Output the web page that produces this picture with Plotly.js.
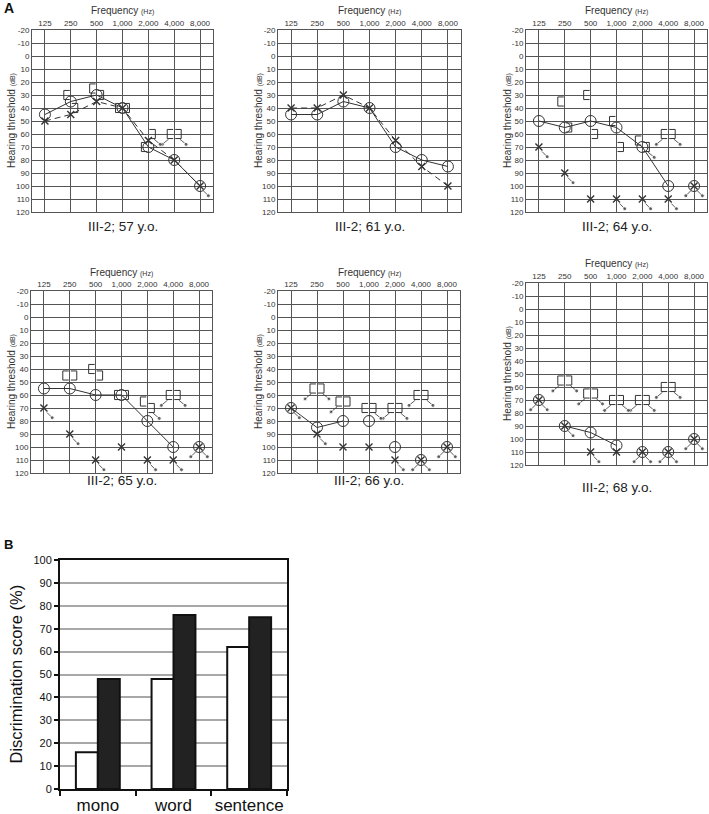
<!DOCTYPE html>
<html>
<head>
<meta charset="utf-8">
<script src="https://cdn.plot.ly/plotly-3.0.1.min.js"></script>
<style>
  html, body { margin: 0; padding: 0; background: #fff; }
  #chart { width: 709px; height: 814px; }
</style>
</head>
<body>
<div id="chart"></div>
<script>
(function () {
    'use strict';

    // ---- data -------------------------------------------------------------
    var FREQS = ['125', '250', '500', '1,000', '2,000', '4,000', '8,000'];
    var DB_TICKS = ['-20', '-10', '0', '10', '20', '30', '40', '50', '60', '70', '80', '90', '100', '110', '120'];
    var AGES = [57, 61, 64, 65, 66, 68];

    // right ear, air conduction (O)
    var RIGHT_AIR = [
        [45, 35, 30, 40, 70, 80, 100],
        [45, 45, 35, 40, 70, 80, 85],
        [50, 55, 50, 55, 70, 100, 100],
        [55, 55, 60, 60, 80, 100, 100],
        [70, 85, 80, 80, 100, 110, 100],
        [70, 90, 95, 105, 110, 110, 100]
    ];
    // solid line joining the O marks (null = break)
    var RIGHT_LINE = [
        [45, 35, 30, 40, 70, 80, 100],
        [45, 45, 35, 40, 70, 80, 85],
        [50, 55, 50, 55, 70, 100, null],
        [55, 55, 60, 60, 80, 100, null],
        [70, 85, 80, null, null, null, null],
        [null, 90, 95, 105, null, null, null]
    ];
    var RIGHT_AIR_NR = [
        [0, 0, 0, 0, 0, 0, 0],
        [0, 0, 0, 0, 0, 0, 0],
        [0, 0, 0, 0, 0, 0, 1],
        [0, 0, 0, 0, 0, 0, 1],
        [0, 0, 0, 0, 0, 1, 1],
        [1, 0, 0, 0, 1, 1, 1]
    ];

    // left ear, air conduction (X)
    var LEFT_AIR = [
        [50, 45, 35, 40, 65, 80, 100],
        [40, 40, 30, 40, 65, 85, 100],
        [70, 90, 110, 110, 110, 110, 100],
        [70, 90, 110, 100, 110, 110, 100],
        [70, 90, 100, 100, 110, 110, 100],
        [70, 90, 110, 110, 110, 110, 100]
    ];
    // dashed line joining the X marks
    var LEFT_LINE = [
        [50, 45, 35, 40, 65, 80, 100],
        [40, 40, 30, 40, 65, 85, 100],
        [null, null, null, null, null, null, null],
        [null, null, null, null, null, null, null],
        [null, null, null, null, null, null, null],
        [null, null, null, null, null, null, null]
    ];
    var LEFT_AIR_NR = [
        [0, 0, 0, 0, 0, 0, 1],
        [0, 0, 0, 0, 0, 0, 0],
        [1, 1, 0, 1, 1, 1, 1],
        [1, 1, 1, 0, 1, 1, 1],
        [1, 1, 0, 0, 1, 1, 1],
        [1, 1, 1, 0, 1, 1, 1]
    ];

    // masked bone conduction: right "[" and left "]"
    var RIGHT_BONE = [
        [null, 30, 25, 40, 70, 60, null],
        [null, null, null, null, null, null, null],
        [null, 35, 30, 50, 65, 60, null],
        [null, 45, 40, 60, 65, 60, null],
        [null, 55, 65, 70, 70, 60, null],
        [null, 55, 65, 70, 70, 60, null]
    ];
    var RIGHT_BONE_NR = [
        [0, 0, 0, 0, 0, 1, 0],
        [0, 0, 0, 0, 0, 0, 0],
        [0, 0, 0, 0, 0, 1, 0],
        [0, 0, 0, 0, 0, 1, 0],
        [0, 1, 1, 0, 1, 1, 0],
        [0, 1, 1, 1, 1, 1, 0]
    ];
    var LEFT_BONE = [
        [null, 40, 30, 40, 60, 60, null],
        [null, null, null, null, null, null, null],
        [null, 55, 60, 70, 70, 60, null],
        [null, 45, 45, 60, 70, 60, null],
        [null, 55, 65, 70, 70, 60, null],
        [null, 55, 65, 70, 70, 60, null]
    ];
    var LEFT_BONE_NR = [
        [0, 0, 0, 0, 1, 1, 0],
        [0, 0, 0, 0, 0, 0, 0],
        [0, 0, 0, 0, 1, 1, 0],
        [0, 0, 0, 0, 1, 1, 0],
        [0, 1, 0, 1, 1, 1, 0],
        [0, 1, 1, 1, 1, 1, 0]
    ];

    // panel B
    var TESTS = ['mono', 'word', 'sentence'];
    var SCORE_OPEN = [16, 48, 62];
    var SCORE_FILLED = [48, 76, 75];

    // ---- geometry (pixels in the 709x814 page) ----------------------------
    var W = 709, H = 814;
    var INK = '#333';
    var FONT = 'Liberation Sans, Arial, sans-serif';
    var PANELS = [
        { x0: 32, x1: 213, y0: 30, y1: 212, freqY: 10, capY: 226, titleX: 11 },
        { x0: 278, x1: 461, y0: 30, y1: 212, freqY: 10, capY: 226, titleX: 258 },
        { x0: 526, x1: 707, y0: 30, y1: 212, freqY: 10, capY: 226, titleX: 507 },
        { x0: 31, x1: 212, y0: 291, y1: 473, freqY: 272, capY: 480, titleX: 11 },
        { x0: 278, x1: 460, y0: 291, y1: 473, freqY: 272, capY: 480, titleX: 258 },
        { x0: 526, x1: 707, y0: 283, y1: 465, freqY: 263, capY: 488, titleX: 507 }
    ];
    var BAR = { x0: 60, x1: 287, y0: 560, y1: 789 };

    function px(x) { return x / W; }
    function py(y) { return 1 - y / H; }
    function idx() { return FREQS.map(function (_, i) { return i; }); }

    // short "no response" arrows hanging off a symbol
    function arrows(vals, flags, dir, a, b) {
        var xs = [], ys = [], sz = [];
        vals.forEach(function (v, i) {
            if (v == null || !flags[i]) return;
            xs.push(i + dir * a[0], i + dir * b[0], null);
            ys.push(v + a[1], v + b[1], null);
            sz.push(0, 4, 0);
        });
        return { x: xs, y: ys, size: sz };
    }

    // bracket outline "[" (dir -1) or "]" (dir +1) beside the frequency line
    function brackets(vals, dir) {
        var xs = [], ys = [];
        var inner = 0.04, outer = 0.27, half = 3.5;
        vals.forEach(function (v, i) {
            if (v == null) return;
            xs.push(i + dir * inner, i + dir * outer, i + dir * outer, i + dir * inner, null);
            ys.push(v - half, v - half, v + half, v + half, null);
        });
        return { x: xs, y: ys };
    }

    var AIR_A = [0.12, 3.5], AIR_B = [0.32, 7.5];
    var BONE_A = [0.22, 4], BONE_B = [0.46, 8];

    var traces = [], layout = {
        width: W, height: H, margin: { l: 0, r: 0, t: 0, b: 0 },
        paper_bgcolor: '#fff', plot_bgcolor: '#fff',
        showlegend: false, font: { family: FONT, color: INK },
        annotations: [], barmode: 'group', bargap: 0.42, bargroupgap: 0
    };

    PANELS.forEach(function (p, k) {
        var n = k + 1, xa = 'x' + n, ya = 'y' + n;
        var X = idx();

        function add(t) { t.xaxis = xa; t.yaxis = ya; t.hoverinfo = 'skip'; traces.push(t); }

        add({ type: 'scatter', mode: 'lines', x: X, y: RIGHT_LINE[k],
              line: { color: INK, width: 1 }, connectgaps: false });
        add({ type: 'scatter', mode: 'lines', x: X, y: LEFT_LINE[k],
              line: { color: INK, width: 1, dash: '6px,4px' }, connectgaps: false });

        [[RIGHT_BONE[k], -1], [LEFT_BONE[k], 1]].forEach(function (s) {
            var b = brackets(s[0], s[1]);
            add({ type: 'scatter', mode: 'lines', x: b.x, y: b.y,
                  line: { color: INK, width: 1 } });
        });

        [[RIGHT_AIR_NR, RIGHT_AIR, -1, AIR_A, AIR_B], [LEFT_AIR_NR, LEFT_AIR, 1, AIR_A, AIR_B],
         [RIGHT_BONE_NR, RIGHT_BONE, -1, BONE_A, BONE_B], [LEFT_BONE_NR, LEFT_BONE, 1, BONE_A, BONE_B]]
            .forEach(function (s) {
                var a = arrows(s[1][k], s[0][k], s[2], s[3], s[4]);
                add({ type: 'scatter', mode: 'lines+markers', x: a.x, y: a.y,
                      line: { color: INK, width: 0.8 },
                      marker: { symbol: 'circle', color: INK, size: a.size } });
            });

        add({ type: 'scatter', mode: 'markers', x: X, y: RIGHT_AIR[k],
              marker: { symbol: 'circle-open', size: 11, color: INK, line: { width: 1, color: INK } } });
        add({ type: 'scatter', mode: 'markers', x: X, y: LEFT_AIR[k],
              marker: { symbol: 'x-thin-open', size: 7, color: INK, line: { width: 1.4, color: INK } } });

        var yt = DB_TICKS.map(Number);

        layout['xaxis' + n] = {
            domain: [px(p.x0), px(p.x1)], anchor: ya, side: 'top',
            range: [-0.5, 6.5], tickvals: X, ticktext: FREQS, ticks: '', tickangle: 0,
            showgrid: true, gridcolor: '#555', gridwidth: 1, zeroline: false,
            showline: true, mirror: true, linecolor: '#555', linewidth: 1,
            tickfont: { family: FONT, size: 8, color: INK }, fixedrange: true
        };
        layout['yaxis' + n] = {
            domain: [py(p.y1), py(p.y0)], anchor: xa,
            range: [120, -20], tickvals: yt, ticktext: DB_TICKS, ticks: '',
            showgrid: true, gridcolor: '#555', gridwidth: 1, zeroline: false,
            showline: true, mirror: true, linecolor: '#555', linewidth: 1,
            tickfont: { family: FONT, size: 8, color: INK }, fixedrange: true
        };

        layout.annotations.push({
            xref: 'paper', yref: 'paper', x: px((p.x0 + p.x1) / 2), y: py(p.freqY),
            xanchor: 'center', yanchor: 'middle', showarrow: false,
            text: 'Frequency <span style="font-size:7px">(Hz)</span>',
            font: { family: FONT, size: 10, color: INK }
        });
        layout.annotations.push({
            xref: 'paper', yref: 'paper', x: px(p.titleX), y: py((p.y0 + p.y1) / 2),
            xanchor: 'center', yanchor: 'middle', showarrow: false, textangle: -90,
            text: 'Hearing threshold <span style="font-size:7px">(dB)</span>',
            font: { family: FONT, size: 10, color: INK }
        });
        layout.annotations.push({
            xref: 'paper', yref: 'paper', x: px((p.x0 + p.x1) / 2), y: py(p.capY),
            xanchor: 'center', yanchor: 'middle', showarrow: false,
            text: 'III-2; ' + AGES[k] + ' y.o.',
            font: { family: FONT, size: 13.5, color: '#222' }
        });
    });

    // ---- panel B ----------------------------------------------------------
    traces.push({
        type: 'bar', x: TESTS, y: SCORE_OPEN, xaxis: 'x7', yaxis: 'y7', hoverinfo: 'skip',
        marker: { color: '#fff', line: { color: '#111', width: 2 } }
    });
    traces.push({
        type: 'bar', x: TESTS, y: SCORE_FILLED, xaxis: 'x7', yaxis: 'y7', hoverinfo: 'skip',
        marker: { color: '#222', line: { color: '#111', width: 2 } }
    });
    layout.xaxis7 = {
        domain: [px(BAR.x0), px(BAR.x1)], anchor: 'y7', type: 'category', tickangle: 0,
        tickson: 'boundaries', ticks: 'outside', ticklen: 5, tickwidth: 2, tickcolor: '#111',
        showline: true, mirror: true, linecolor: '#111', linewidth: 2, showgrid: false,
        tickfont: { family: FONT, size: 17, color: '#111' }, fixedrange: true
    };
    layout.yaxis7 = {
        domain: [py(BAR.y1), py(BAR.y0)], anchor: 'x7', range: [0, 100], dtick: 10,
        ticks: 'outside', ticklen: 4, tickwidth: 2, tickcolor: '#111',
        showline: true, mirror: true, linecolor: '#111', linewidth: 2,
        showgrid: true, gridcolor: '#a8a8a8', gridwidth: 2, zeroline: false,
        tickfont: { family: FONT, size: 11, color: '#111' }, fixedrange: true
    };
    layout.annotations.push({
        xref: 'paper', yref: 'paper', x: px(15), y: py((BAR.y0 + BAR.y1) / 2),
        xanchor: 'center', yanchor: 'middle', showarrow: false, textangle: -90,
        text: 'Discrimination score (%)', font: { family: FONT, size: 16.5, color: '#111' }
    });

    // panel letters
    layout.annotations.push({
        xref: 'paper', yref: 'paper', x: px(2), y: py(8), xanchor: 'left', yanchor: 'middle',
        showarrow: false, text: '<b>A</b>', font: { family: FONT, size: 14, color: '#111' }
    });
    layout.annotations.push({
        xref: 'paper', yref: 'paper', x: px(2), y: py(544), xanchor: 'left', yanchor: 'middle',
        showarrow: false, text: '<b>B</b>', font: { family: FONT, size: 13, color: '#111' }
    });

    Plotly.newPlot('chart', traces, layout, { staticPlot: true, displayModeBar: false });
})();
</script>
</body>
</html>
